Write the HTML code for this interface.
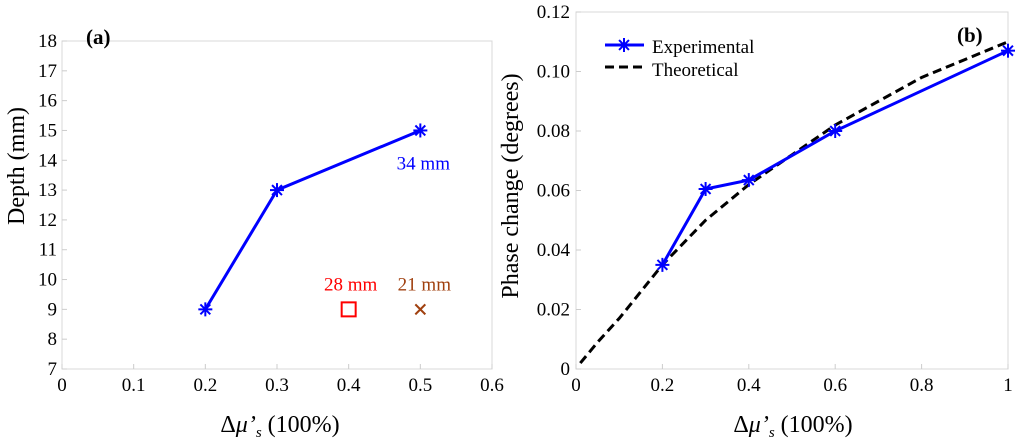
<!DOCTYPE html>
<html><head><meta charset="utf-8"><style>
body{margin:0;background:#fff}
svg{display:block}
svg text{font-family:"Liberation Serif","Times New Roman",serif}
</style></head><body>
<svg id="c" width="1024" height="441" font-family="Liberation Serif, serif"></svg>
<script>
const aX=[0.2,0.3,0.5];
const aY=[9,13,15];
const aXTicks=[0,0.1,0.2,0.3,0.4,0.5,0.6];
const aYTicks=[7,8,9,10,11,12,13,14,15,16,17,18];
const sqPt=[0.4,9];
const xPt=[0.5,9];
const bExpX=[0.2,0.3,0.4,0.6,1];
const bExpY=[0.035,0.0605,0.0635,0.080,0.107];
const bThX=[0.01,0.05,0.1,0.2,0.3,0.4,0.5,0.6,0.7,0.8,0.9,1];
const bThY=[0.002,0.009,0.017,0.035,0.05,0.062,0.072,0.082,0.090,0.098,0.104,0.110];
const bXTicks=[0,0.2,0.4,0.6,0.8,1];
const bYTicks=[0,0.02,0.04,0.06,0.08,0.10,0.12];
const bYLabels=["0","0.02","0.04","0.06","0.08","0.10","0.12"];

const svg=document.getElementById('c');
const NS='http://www.w3.org/2000/svg';
function mk(t,a,txt){const e=document.createElementNS(NS,t);for(const k in a)e.setAttribute(k,a[k]);if(t==='text')e.setAttribute('font-family','Liberation Serif, serif');if(txt!=null)e.textContent=txt;svg.appendChild(e);return e;}
function star(x,y,name){for(let i=0;i<4;i++){const an=i*Math.PI/4;const e=mk('line',{x1:x-7*Math.cos(an),y1:y-7*Math.sin(an),x2:x+7*Math.cos(an),y2:y+7*Math.sin(an),stroke:'#0000ff','stroke-width':2});

}}
const TF=19, AF=24;

// Panel a
const ax=v=>62+(v-0)/0.6*430, ay=v=>369-(v-7)/11*328;
let e=mk('rect',{x:62,y:41,width:430,height:328,fill:'none',stroke:'#d8d8d8','stroke-width':1});

aXTicks.forEach(v=>{e=mk('line',{x1:ax(v),x2:ax(v),y1:369,y2:364,stroke:'#ccc'});
e=mk('text',{x:ax(v),y:391,'font-size':TF,'text-anchor':'middle'},String(v));});
aYTicks.forEach(v=>{e=mk('line',{x1:62,x2:67,y1:ay(v),y2:ay(v),stroke:'#ccc'});
e=mk('text',{x:57,y:ay(v)+6,'font-size':TF,'text-anchor':'end'},String(v));});
e=mk('text',{x:280,y:432,'font-size':AF,'text-anchor':'middle'});e.innerHTML='Δ<tspan font-style="italic">μ’</tspan><tspan font-style="italic" font-size="15" dy="5">s</tspan><tspan dy="-5"> (100%)</tspan>';

e=mk('text',{x:0,y:0,'font-size':AF,'text-anchor':'middle',transform:'translate(24,166) rotate(-90)'},'Depth (mm)');

e=mk('text',{x:86,y:44,'font-size':21,'font-weight':'bold'},'(a)');
e=mk('polyline',{points:aX.map((v,i)=>ax(v)+','+ay(aY[i])).join(' '),fill:'none',stroke:'#0000ff','stroke-width':3});

aX.forEach((v,i)=>star(ax(v),ay(aY[i]),'depth-marker'));
e=mk('text',{x:ax(0.5)+3,y:ay(15)+39,'font-size':TF,fill:'#0000ff','text-anchor':'middle'},'34 mm');
e=mk('rect',{x:ax(sqPt[0])-7,y:ay(sqPt[1])-7,width:14,height:14,fill:'none',stroke:'#ff0000','stroke-width':2});
e=mk('text',{x:ax(sqPt[0])+2,y:ay(sqPt[1])-19,'font-size':TF,fill:'#ff0000','text-anchor':'middle'},'28 mm');
e=mk('path',{d:`M${ax(xPt[0])-5},${ay(xPt[1])-5}L${ax(xPt[0])+5},${ay(xPt[1])+5}M${ax(xPt[0])+5},${ay(xPt[1])-5}L${ax(xPt[0])-5},${ay(xPt[1])+5}`,stroke:'#a0400f','stroke-width':2});
e=mk('text',{x:ax(xPt[0])+4,y:ay(xPt[1])-19,'font-size':TF,fill:'#a0400f','text-anchor':'middle'},'21 mm');

// Panel b
const bx=v=>576+v*432, by=v=>369-v/0.12*357;
e=mk('rect',{x:576,y:12,width:432,height:357,fill:'none',stroke:'#d8d8d8','stroke-width':1});

bXTicks.forEach(v=>{e=mk('line',{x1:bx(v),x2:bx(v),y1:369,y2:364,stroke:'#ccc'});
e=mk('text',{x:bx(v),y:391,'font-size':TF,'text-anchor':'middle'},String(v));});
bYTicks.forEach((v,i)=>{e=mk('line',{x1:576,x2:581,y1:by(v),y2:by(v),stroke:'#ccc'});
e=mk('text',{x:570,y:by(v)+6,'font-size':TF,'text-anchor':'end'},bYLabels[i]);});
e=mk('text',{x:793,y:432,'font-size':AF,'text-anchor':'middle'});e.innerHTML='Δ<tspan font-style="italic">μ’</tspan><tspan font-style="italic" font-size="15" dy="5">s</tspan><tspan dy="-5"> (100%)</tspan>';

e=mk('text',{x:0,y:0,'font-size':AF,'text-anchor':'middle',transform:'translate(518,186) rotate(-90)'},'Phase change (degrees)');

e=mk('text',{x:957,y:42,'font-size':21,'font-weight':'bold'},'(b)');
e=mk('polyline',{points:bThX.map((v,i)=>bx(v)+','+by(bThY[i])).join(' '),fill:'none',stroke:'#000','stroke-width':3,'stroke-dasharray':'9,5'});

e=mk('polyline',{points:bExpX.map((v,i)=>bx(v)+','+by(bExpY[i])).join(' '),fill:'none',stroke:'#0000ff','stroke-width':3});

bExpX.forEach((v,i)=>star(bx(v),by(bExpY[i]),'experimental-marker'));
// legend
e=mk('line',{x1:605,x2:644,y1:45,y2:45,stroke:'#0000ff','stroke-width':3});
star(624,45,'legend-experimental-marker');
e=mk('text',{x:652,y:53,'font-size':TF},'Experimental');
e=mk('line',{x1:605,x2:644,y1:67,y2:67,stroke:'#000','stroke-width':3,'stroke-dasharray':'9,5'});
e=mk('text',{x:652,y:76,'font-size':TF},'Theoretical');
</script>
</body></html>
